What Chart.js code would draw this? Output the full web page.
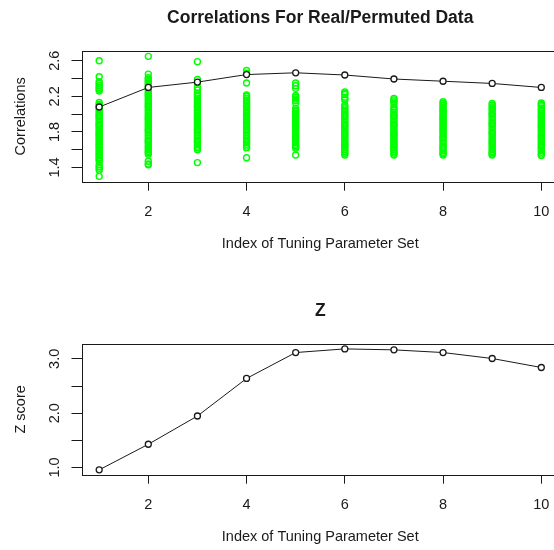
<!DOCTYPE html>
<html>
<head>
<meta charset="utf-8">
<script src="https://cdn.jsdelivr.net/npm/chart.js@4/dist/chart.umd.min.js"></script>
<style>
  html, body { margin: 0; padding: 0; background: #fff; overflow: hidden; }
  .panel { position: absolute; left: 0; }
  #top { top: 0; }
  #bottom { top: 293px; }
</style>
</head>
<body>
<div class="panel" id="top"><canvas id="corrChart" width="575" height="280"></canvas></div>
<div class="panel" id="bottom"><canvas id="zChart" width="575" height="280"></canvas></div>
<script>
// tuning parameter sets
const indices = [1, 2, 3, 4, 5, 6, 7, 8, 9, 10];

// correlation on the real data, one per set
const realCorr = [2.08, 2.30, 2.36, 2.445, 2.465, 2.44, 2.395, 2.37, 2.345, 2.30];

// correlations on the permuted data, one list per set
const permCorr = [
  [2.60, 2.42, 2.365, 2.345, 2.32, 2.30, 2.28, 2.26,
   2.13, 2.11, 2.095, 2.08, 2.06, 2.04, 2.02, 2.00, 1.985, 1.97, 1.95, 1.93, 1.91, 1.89, 1.875, 1.86,
   1.84, 1.82, 1.80, 1.78, 1.765, 1.75, 1.73, 1.71, 1.69, 1.67, 1.655, 1.64, 1.62, 1.60, 1.58, 1.56,
   1.545, 1.53, 1.51, 1.49, 1.47, 1.43, 1.41, 1.39, 1.37, 1.30],
  [2.65, 2.45, 2.41, 2.395, 2.38, 2.365, 2.35, 2.33, 2.31, 2.29, 2.27, 2.25, 2.23, 2.215, 2.20, 2.18,
   2.16, 2.14, 2.12, 2.10, 2.085, 2.07, 2.05, 2.03, 2.01, 1.99, 1.97, 1.955, 1.94, 1.92, 1.90, 1.88,
   1.86, 1.84, 1.825, 1.81, 1.79, 1.77, 1.75, 1.73, 1.71, 1.695, 1.68, 1.66, 1.64, 1.62, 1.60, 1.58,
   1.565, 1.55, 1.47, 1.44, 1.43],
  [2.59, 2.39, 2.35, 2.30, 2.27, 2.235, 2.215, 2.20, 2.18, 2.16, 2.14, 2.12, 2.10, 2.085, 2.07, 2.05,
   2.03, 2.01, 1.99, 1.97, 1.955, 1.94, 1.92, 1.90, 1.88, 1.86, 1.84, 1.825, 1.81, 1.79, 1.77, 1.75,
   1.73, 1.71, 1.695, 1.68, 1.66, 1.64, 1.62, 1.60, 1.455],
  [2.49, 2.46, 2.35, 2.215, 2.20, 2.18, 2.16, 2.14, 2.12, 2.10, 2.085, 2.07, 2.05, 2.03, 2.01, 1.99,
   1.97, 1.955, 1.94, 1.92, 1.90, 1.88, 1.86, 1.84, 1.825, 1.81, 1.79, 1.77, 1.75, 1.73, 1.71, 1.695,
   1.68, 1.66, 1.64, 1.62, 1.51],
  [2.35, 2.32, 2.29, 2.21, 2.19, 2.17, 2.15, 2.125, 2.065, 2.045, 2.03, 2.01, 1.99, 1.975, 1.96, 1.94,
   1.92, 1.90, 1.88, 1.865, 1.85, 1.83, 1.81, 1.79, 1.77, 1.755, 1.74, 1.72, 1.70, 1.68, 1.66, 1.645,
   1.63, 1.615, 1.54],
  [2.25, 2.235, 2.22, 2.19, 2.17, 2.16, 2.10, 2.08, 2.06, 2.04, 2.02, 2.00, 1.985, 1.97, 1.95, 1.93,
   1.91, 1.89, 1.875, 1.86, 1.84, 1.82, 1.80, 1.78, 1.765, 1.75, 1.73, 1.71, 1.69, 1.67, 1.655, 1.64,
   1.62, 1.60, 1.58, 1.56, 1.54],
  [2.175, 2.16, 2.14, 2.12, 2.08, 2.06, 2.04, 2.02, 2.00, 1.985, 1.97, 1.95, 1.93, 1.91, 1.89, 1.875,
   1.86, 1.84, 1.82, 1.80, 1.78, 1.765, 1.75, 1.73, 1.71, 1.69, 1.67, 1.655, 1.64, 1.62, 1.60, 1.58,
   1.56, 1.54],
  [2.14, 2.12, 2.10, 2.08, 2.06, 2.045, 2.03, 2.01, 1.99, 1.97, 1.955, 1.94, 1.92, 1.90, 1.88, 1.86,
   1.845, 1.83, 1.81, 1.79, 1.77, 1.75, 1.735, 1.72, 1.70, 1.68, 1.66, 1.64, 1.625, 1.61, 1.59, 1.57,
   1.555, 1.54],
  [2.12, 2.10, 2.08, 2.06, 2.04, 2.02, 2.005, 1.99, 1.97, 1.95, 1.93, 1.91, 1.895, 1.88, 1.86, 1.84,
   1.82, 1.80, 1.785, 1.77, 1.75, 1.73, 1.71, 1.69, 1.675, 1.66, 1.64, 1.62, 1.60, 1.58, 1.565, 1.55,
   1.54],
  [2.125, 2.11, 2.095, 2.07, 2.05, 2.03, 2.01, 1.99, 1.975, 1.96, 1.94, 1.92, 1.90, 1.88, 1.865, 1.85,
   1.83, 1.81, 1.79, 1.77, 1.755, 1.74, 1.72, 1.70, 1.68, 1.66, 1.645, 1.625, 1.61, 1.59, 1.57, 1.55,
   1.535]
];

// Z score per set
const zScores = [0.957, 1.428, 1.948, 2.639, 3.116, 3.183, 3.165, 3.116, 3.006, 2.841];

// axis ticks
const xTicks = [2, 4, 6, 8, 10];
const corrTicks = [1.4, 1.6, 1.8, 2.0, 2.2, 2.4, 2.6];
const corrLabels = [1.4, 1.8, 2.2, 2.6];
const zTicks = [1.0, 1.5, 2.0, 2.5, 3.0];
const zLabels = [1.0, 2.0, 3.0];

const ink = '#1a1a1a';
const family = '"Liberation Sans", Arial, sans-serif';
const axisFont = { family: family, size: 14.5 };

// box around the plotting region
const framePlugin = {
  id: 'frame',
  afterDatasetsDraw(chart) {
    const { ctx, chartArea: a } = chart;
    ctx.save();
    ctx.strokeStyle = ink;
    ctx.lineWidth = 1;
    ctx.strokeRect(Math.round(a.left) + 0.5, Math.round(a.top) + 0.5,
      Math.round(a.right - a.left), Math.round(a.bottom - a.top));
    ctx.restore();
  }
};

function seriesLine(values) {
  return {
    type: 'line',
    data: indices.map((x, i) => ({ x: x, y: values[i] })),
    borderColor: ink,
    borderWidth: 1,
    pointRadius: 3,
    pointBorderColor: ink,
    pointBorderWidth: 1.3,
    pointBackgroundColor: '#fff',
    tension: 0,
    order: 0
  };
}

function makePanel(canvasId, title, yTitle, yMin, yMax, yTicks, yLabels, datasets) {
  new Chart(document.getElementById(canvasId), {
    type: 'scatter',
    data: { datasets: datasets },
    options: {
      responsive: false,
      animation: false,
      layout: { padding: { left: 0, right: 16, top: 0, bottom: 0 } },
      plugins: {
        legend: { display: false },
        tooltip: { enabled: false },
        title: {
          display: true,
          text: title,
          fullSize: false,
          color: ink,
          font: { family: family, size: 17.5, weight: 'bold' },
          padding: { top: 8, bottom: 22 }
        }
      },
      scales: {
        x: {
          type: 'linear',
          min: 0.64,
          max: 10.36,
          afterBuildTicks: s => { s.ticks = xTicks.map(v => ({ value: v })); },
          afterFit: s => { s.height = 98.3; },
          grid: { drawOnChartArea: false, tickLength: 9, color: ink },
          border: { display: false },
          ticks: { autoSkip: false, maxRotation: 0, padding: 13, color: ink, font: axisFont },
          title: {
            display: true,
            text: 'Index of Tuning Parameter Set',
            color: ink,
            font: axisFont,
            padding: { top: 0, bottom: 27 }
          }
        },
        y: {
          min: yMin,
          max: yMax,
          afterBuildTicks: s => { s.ticks = yTicks.map(v => ({ value: v })); },
          afterFit: s => { s.width = 81.5; },
          grid: { drawOnChartArea: false, tickLength: 10, color: ink },
          border: { display: false },
          ticks: {
            autoSkip: false,
            minRotation: 90,
            maxRotation: 90,
            crossAlign: 'center',
            padding: 6,
            color: ink,
            font: axisFont,
            callback: v => yLabels.some(l => Math.abs(l - v) < 1e-9) ? v.toFixed(1) : ''
          },
          title: {
            display: true,
            text: yTitle,
            color: ink,
            font: axisFont,
            padding: { top: 12, bottom: 0 }
          }
        }
      }
    },
    plugins: [framePlugin]
  });
}

// permuted correlations as open green circles
const permPoints = [];
permCorr.forEach((col, i) => {
  col.forEach(v => permPoints.push({ x: indices[i], y: v }));
});

makePanel('corrChart', 'Correlations For Real/Permuted Data', 'Correlations',
  1.24, 2.71, corrTicks, corrLabels, [
    seriesLine(realCorr),
    {
      data: permPoints,
      pointRadius: 3,
      pointBorderWidth: 1.4,
      pointBorderColor: '#00ff00',
      pointBackgroundColor: 'rgba(0,0,0,0)',
      order: 1
    }
  ]);

makePanel('zChart', 'Z', 'Z score', 0.868, 3.273, zTicks, zLabels, [
  seriesLine(zScores)
]);
</script>
</body>
</html>
